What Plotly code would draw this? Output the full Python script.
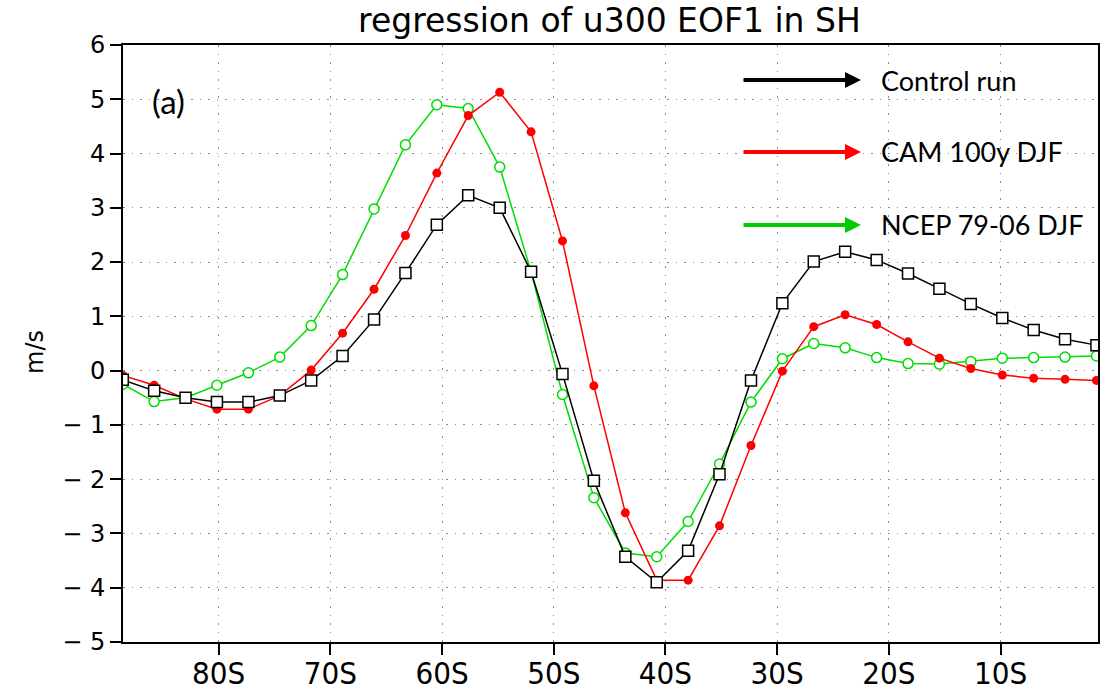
import plotly.graph_objects as go

# ---- data ----
latitudes = [-88.59, -85.78, -82.97, -80.16, -77.34, -74.53, -71.72, -68.91,
             -66.09, -63.28, -60.47, -57.66, -54.84, -52.03, -49.22, -46.41,
             -43.59, -40.78, -37.97, -35.16, -32.34, -29.53, -26.72, -23.91,
             -21.09, -18.28, -15.47, -12.66, -9.84, -7.03, -4.22, -1.41]

control_run = [-0.17, -0.37, -0.50, -0.58, -0.58, -0.46, -0.18, 0.27,
               0.94, 1.80, 2.69, 3.23, 3.00, 1.82, -0.06, -2.03,
               -3.43, -3.90, -3.32, -1.91, -0.18, 1.24, 2.01, 2.19,
               2.04, 1.79, 1.51, 1.23, 0.97, 0.75, 0.58, 0.47]

cam_100y_djf = [-0.09, -0.27, -0.52, -0.71, -0.71, -0.46, 0.01, 0.69,
                1.50, 2.49, 3.64, 4.70, 5.13, 4.40, 2.39, -0.28,
                -2.62, -3.86, -3.86, -2.86, -1.38, -0.01, 0.81, 1.03,
                0.85, 0.53, 0.23, 0.04, -0.08, -0.14, -0.16, -0.18]

ncep_79_06_djf = [-0.25, -0.57, -0.50, -0.27, -0.04, 0.25, 0.83, 1.77,
                  2.98, 4.16, 4.90, 4.83, 3.75, 1.82, -0.44, -2.34,
                  -3.36, -3.43, -2.78, -1.72, -0.58, 0.22, 0.50, 0.42,
                  0.24, 0.13, 0.12, 0.17, 0.23, 0.24, 0.25, 0.27]

x_tick_vals = [-80, -70, -60, -50, -40, -30, -20, -10]
x_tick_text = ["80S", "70S", "60S", "50S", "40S", "30S", "20S", "10S"]
y_tick_vals = [-5, -4, -3, -2, -1, 0, 1, 2, 3, 4, 5, 6]
y_tick_text = ["\u2212 5", "\u2212 4", "\u2212 3", "\u2212 2", "\u2212 1",
               "0", "1", "2", "3", "4", "5", "6"]

legend_names = ["Control run", "CAM 100y DJF", "NCEP 79-06 DJF"]
legend_colors = ["#000000", "#ff0000", "#00cc00"]

title_text = "regression of u300 EOF1 in SH"
panel_label = "(a)"
y_title = "m/s"

# ---- figure ----
fig = go.Figure()

fig.add_trace(go.Scatter(
    x=latitudes, y=ncep_79_06_djf, mode="lines+markers",
    line=dict(color="#00dd00", width=1.5),
    marker=dict(symbol="circle", size=10, color="white",
                line=dict(color="#00dd00", width=1.5)),
    showlegend=False))

fig.add_trace(go.Scatter(
    x=latitudes, y=cam_100y_djf, mode="lines+markers",
    line=dict(color="#ff0000", width=1.5),
    marker=dict(symbol="circle", size=9, color="#ff0000",
                line=dict(color="#ff0000", width=0)),
    showlegend=False))

fig.add_trace(go.Scatter(
    x=latitudes, y=control_run, mode="lines+markers",
    line=dict(color="#000000", width=1.5),
    marker=dict(symbol="square", size=11, color="white",
                line=dict(color="#000000", width=1.5)),
    showlegend=False))

L, R, T, B = 123, 4, 45, 54
W, H = 1102, 696
pw = W - L - R
ph = H - T - B


def px(xp):
    return (xp - L) / pw


def py(yp):
    return (H - B - yp) / ph


annotations = []
arrow_rows = [80, 152, 225]
for name, col, yy in zip(legend_names, legend_colors, arrow_rows):
    annotations.append(dict(
        x=px(861), y=py(yy), xref="paper", yref="paper",
        ax=-119, ay=0, text="", showarrow=True,
        arrowhead=2, arrowsize=0.8, arrowwidth=4, arrowcolor=col))
    annotations.append(dict(
        x=px(879), y=py(yy), xref="paper", yref="paper",
        text=name, showarrow=False, xanchor="left", yanchor="middle",
        font=dict(family="Lato, Open Sans, sans-serif", size=27, color="black")))

annotations.append(dict(
    x=px(150), y=py(101), xref="paper", yref="paper",
    text=panel_label, showarrow=False, xanchor="left", yanchor="middle",
    font=dict(family="Lato, Open Sans, sans-serif", size=33, color="black")))

annotations.append(dict(
    x=px(35), y=py(352), xref="paper", yref="paper",
    text=y_title, showarrow=False, textangle=-90,
    xanchor="center", yanchor="middle",
    font=dict(family="DejaVu Sans, sans-serif", size=24, color="black")))

grid_dash = "1.5px,7px"

fig.update_layout(
    width=W, height=H,
    margin=dict(l=L, r=R, t=T, b=B, autoexpand=False),
    paper_bgcolor="white", plot_bgcolor="white",
    title=dict(text=title_text, x=0.553, xanchor="center", y=0.97, yanchor="middle",
               font=dict(family="DejaVu Sans, sans-serif", size=33, color="black")),
    annotations=annotations,
    xaxis=dict(
        range=[-88.57, -1.27], tickvals=x_tick_vals, ticktext=x_tick_text,
        automargin=False,
        showgrid=True, gridcolor="#8a8a8a", griddash=grid_dash, gridwidth=1.3,
        zeroline=False, showline=True, linecolor="black", linewidth=2,
        mirror=True, ticks="outside", ticklen=11, tickwidth=1.5, tickcolor="black",
        ticklabelstandoff=-8,
        tickfont=dict(family="DejaVu Sans Condensed, Liberation Sans Narrow, sans-serif",
                      size=31, color="black")),
    yaxis=dict(
        range=[-5, 6], tickvals=y_tick_vals, ticktext=y_tick_text,
        automargin=False,
        showgrid=True, gridcolor="#8a8a8a", griddash=grid_dash, gridwidth=1.3,
        zeroline=False, showline=True, linecolor="black", linewidth=2,
        mirror=True, ticks="outside", ticklen=11, tickwidth=1.5, tickcolor="black",
        tickfont=dict(family="DejaVu Sans, sans-serif", size=24, color="black")),
)

fig.write_html("out.html")
